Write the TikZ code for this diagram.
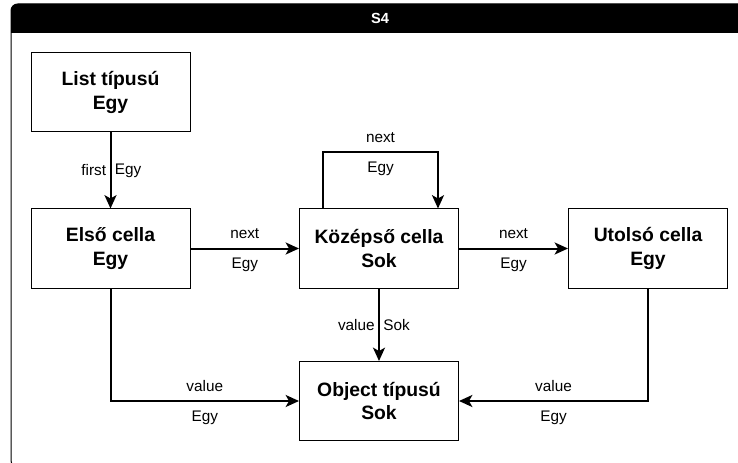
\documentclass[tikz,border=0pt]{standalone}
\usepackage{fontspec}
\setmainfont{Liberation Sans}
\usetikzlibrary{arrows.meta,calc}

\tikzset{
	cellbox/.style={draw, line width=0.75pt, minimum width=119.25pt, minimum height=59.25pt, inner sep=0pt, align=center, font=\fontsize{14.5}{17.4}\selectfont\bfseries},
	link/.style={line width=1.5pt, -{Stealth[length=10pt,width=9pt,inset=2.5pt]}},
	lbl/.style={font=\fontsize{11.5}{13.8}\selectfont, inner sep=2.5pt}
}

\begin{document}
\begin{tikzpicture}[x=0.75pt,y=-0.75pt]
			\useasboundingbox (0,0) rectangle (738,463);
			\clip (0,0) rectangle (738,463);
			% keret es fejlec
			\fill (11,33) [rounded corners=5pt] -- (11,4) -- (750,4) [sharp corners] -- (750,33) -- cycle;
			\draw[line width=0.75pt, rounded corners=5pt] (11,4) rectangle (750,467);
			\node[font=\fontsize{11}{13}\selectfont\bfseries, text=white] (cim) at (380,18.5) {S4};
			% cellak
			\foreach \nev/\hely/\szoveg in {
				lista/{110.5,92.5}/{List típusú\\Egy},
				elso/{110.5,248.5}/{Első cella\\Egy},
				kozep/{379,248.5}/{Középső cella\\Sok},
				utolso/{648,248.5}/{Utolsó cella\\Egy},
				obj/{379,401}/{Object típusú\\Sok}}
				\node[cellbox] (\nev) at (\hely) {\szoveg};
			% kapcsolatok
			\draw[link] (lista) -- (elso) node[lbl, midway, left]{first} node[lbl, midway, right]{Egy};
			\draw[link] (elso) -- (kozep) node[lbl, midway, above=4pt]{next} node[lbl, midway, below=4pt]{Egy};
			\draw[link] (kozep) -- (utolso) node[lbl, midway, above=4pt]{next} node[lbl, midway, below=4pt]{Egy};
			\draw[link] ([xshift=-42pt]kozep.north) -- ++(0,-56) coordinate (hurok)
			-| ([xshift=44.25pt]kozep.north) node[lbl, pos=0.25, above=4pt]{next} node[lbl, pos=0.25, below=4pt]{Egy};
			\draw[link] (kozep) -- (obj) node[lbl, midway, left]{value} node[lbl, midway, right]{Sok};
			\draw[link] (elso.south) |- (obj.west) node[lbl, pos=0.75, above=4pt]{value} node[lbl, pos=0.75, below=4pt]{Egy};
			\draw[link] (utolso.south) |- (obj.east) node[lbl, pos=0.75, above=4pt]{value} node[lbl, pos=0.75, below=4pt]{Egy};
		\end{tikzpicture}
\end{document}
